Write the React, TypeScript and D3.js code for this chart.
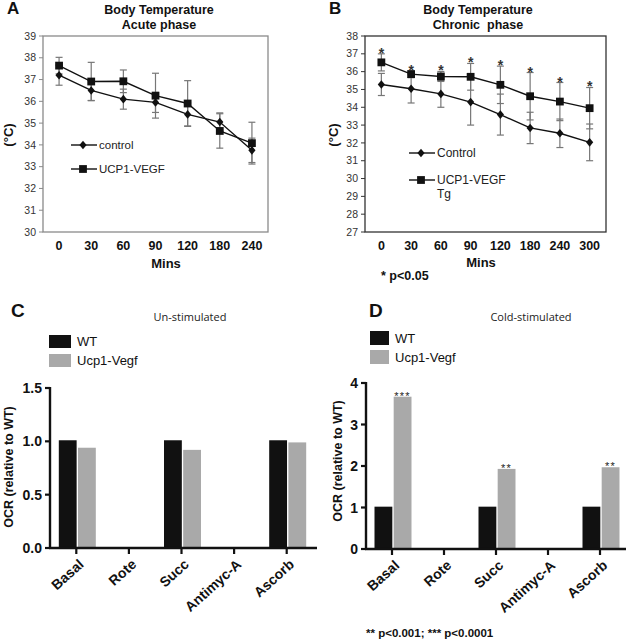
import React from "react";
import * as d3 from "d3";

// ---------- Data ----------
const aCats = ["0", "30", "60", "90", "120", "180", "240"];
const aControl = [37.2, 36.5, 36.1, 35.95, 35.4, 35.05, 33.75];
const aControlErr = [0.46, 0.46, 0.46, 0.46, 0.53, 0.42, 0.56];
const aUcp = [37.64, 36.91, 36.92, 36.26, 35.9, 34.64, 34.08];
const aUcpErr = [0.38, 0.88, 0.52, 1.03, 1.05, 0.79, 0.96];
const aTicks = [30, 31, 32, 33, 34, 35, 36, 37, 38, 39];

const bCats = ["0", "30", "60", "90", "120", "180", "240", "300"];
const bControl = [35.28, 35.04, 34.75, 34.29, 33.59, 32.84, 32.54, 32.03];
const bControlErr = [0.62, 0.8, 0.75, 1.29, 1.15, 0.88, 0.8, 1.03];
const bUcp = [36.52, 35.86, 35.73, 35.71, 35.26, 34.62, 34.32, 33.95];
const bUcpErr = [0.48, 0.2, 0.28, 0.75, 1.05, 1.33, 1.07, 1.16];
const bTicks = [27, 28, 29, 30, 31, 32, 33, 34, 35, 36, 37, 38];

const barCats = ["Basal", "Rote", "Succ", "Antimyc-A", "Ascorb"];
const barSeries = ["WT", "Ucp1-Vegf"];
const cWT = [1.01, 0, 1.01, 0, 1.01];
const cUcp = [0.94, 0, 0.92, 0, 0.99];
const cTicks = [0, 0.5, 1.0, 1.5];
const dWT = [1.02, 0, 1.02, 0, 1.02];
const dUcp = [3.67, 0, 1.93, 0, 1.97];
const dSig = ["***", "", "**", "", "**"];
const dTicks = [0, 1, 2, 3, 4];

const ARIAL = "'Liberation Sans', Arial, sans-serif";
const OPEN = "'Open Sans', 'Liberation Sans', sans-serif";
const BAR_COLORS = ["#111111", "#a9a9a9"];

const diamondPath = "M0,-4.3L3.6,0L0,4.3L-3.6,0Z";
const squarePath = "M-3.9,-3.9H3.9V3.9H-3.9Z";

type LineProps = {
  cats: string[];
  control: number[];
  controlErr: number[];
  ucp: number[];
  ucpErr: number[];
  ticks: number[];
  x0: number;
  x1: number;
  padding: number;
  boxColor: string;
  stars: boolean;
};

function LinePanel(p: LineProps) {
  const x = d3.scalePoint<string>().domain(p.cats).range([p.x0, p.x1]).padding(p.padding);
  const y = d3
    .scaleLinear()
    .domain([p.ticks[0], p.ticks[p.ticks.length - 1]])
    .range([232, 36]);
  const line = d3
    .line<number>()
    .x((_, i) => x(p.cats[i]) as number)
    .y((v) => y(v));
  const err = (vals: number[], errs: number[], key: string) =>
    vals.map((v, i) => {
      const cx = x(p.cats[i]) as number;
      const lo = y(v - errs[i]);
      const hi = y(v + errs[i]);
      return (
        <g key={key + i} stroke="#777" strokeWidth={1.2}>
          <line x1={cx} x2={cx} y1={lo} y2={hi} />
          <line x1={cx - 3.5} x2={cx + 3.5} y1={lo} y2={lo} />
          <line x1={cx - 3.5} x2={cx + 3.5} y1={hi} y2={hi} />
        </g>
      );
    });
  return (
    <g>
      <rect x={p.x0} y={36} width={p.x1 - p.x0} height={196} fill="none" stroke={p.boxColor} strokeWidth={1.3} />
      {p.ticks.map((t) => (
        <g key={t}>
          <line x1={p.x0 - 4} x2={p.x0} y1={y(t)} y2={y(t)} stroke={p.boxColor} strokeWidth={1} />
          <text x={p.x0 - 7} y={y(t)} dy="0.35em" textAnchor="end" fontSize={10.5} fill="#333" fontFamily={ARIAL}>
            {t}
          </text>
        </g>
      ))}
      {p.cats.map((c) => (
        <text key={c} x={x(c) as number} y={250} textAnchor="middle" fontSize={12.5} fontWeight="bold" fontFamily={ARIAL} fill="#111">
          {c}
        </text>
      ))}
      {err(p.control, p.controlErr, "ce")}
      {err(p.ucp, p.ucpErr, "ue")}
      <path d={line(p.control) || ""} fill="none" stroke="#111" strokeWidth={1.4} />
      <path d={line(p.ucp) || ""} fill="none" stroke="#111" strokeWidth={1.4} />
      {p.control.map((v, i) => (
        <path key={"cd" + i} d={diamondPath} transform={`translate(${x(p.cats[i])},${y(v)})`} fill="#111" />
      ))}
      {p.ucp.map((v, i) => (
        <path key={"us" + i} d={squarePath} transform={`translate(${x(p.cats[i])},${y(v)})`} fill="#111" />
      ))}
      {p.stars &&
        p.ucp.map((v, i) => (
          <text key={"st" + i} x={x(p.cats[i]) as number} y={y(v + p.ucpErr[i]) + 4} textAnchor="middle" fontSize={14} fontWeight="bold" fontFamily={ARIAL} fill="#333">
            *
          </text>
        ))}
    </g>
  );
}

type BarProps = {
  wt: number[];
  ucp: number[];
  ticks: number[];
  x0: number;
  x1: number;
  yTop: number;
  yBottom: number;
  fmt: (v: number) => string;
  sig?: string[];
};

function BarPanel(p: BarProps) {
  const x = d3.scaleBand<string>().domain(barCats).range([p.x0, p.x1]);
  const sub = d3.scaleBand<string>().domain(barSeries).range([0, 37]).paddingInner(0.07);
  const y = d3
    .scaleLinear()
    .domain([p.ticks[0], p.ticks[p.ticks.length - 1]])
    .range([p.yBottom, p.yTop]);
  const series = [p.wt, p.ucp];
  return (
    <g>
      {series.map((vals, s) =>
        vals.map((v, i) => {
          const cx = (x(barCats[i]) as number) + x.bandwidth() / 2;
          const bx = cx - 17.5 + (sub(barSeries[s]) as number);
          return v > 0 ? (
            <rect key={s + "-" + i} x={bx} y={y(v)} width={sub.bandwidth()} height={y(0) - y(v)} fill={BAR_COLORS[s]} />
          ) : null;
        })
      )}
      {p.sig &&
        p.sig.map((sg, i) => {
          const cx = (x(barCats[i]) as number) + x.bandwidth() / 2;
          const bx = cx - 17.5 + (sub(barSeries[1]) as number) + sub.bandwidth() / 2;
          return sg ? (
            <text key={"sg" + i} x={bx} y={y(p.ucp[i]) + 3} textAnchor="middle" fontSize={11} letterSpacing={1.2} fontFamily={ARIAL} fill="#222">
              {sg}
            </text>
          ) : null;
        })}
      <line x1={p.x0} x2={p.x0} y1={p.yTop - 1} y2={p.yBottom + 1} stroke="#111" strokeWidth={2.4} />
      <line x1={p.x0 - 1} x2={p.x1 + 4} y1={p.yBottom} y2={p.yBottom} stroke="#111" strokeWidth={2.4} />
      {p.ticks.map((t) => (
        <g key={t}>
          <line x1={p.x0 - 5} x2={p.x0} y1={y(t)} y2={y(t)} stroke="#111" strokeWidth={2.2} />
          <text x={p.x0 - 8} y={y(t)} dy="0.36em" textAnchor="end" fontSize={14} fontWeight="bold" fontFamily={ARIAL} fill="#111">
            {p.fmt(t)}
          </text>
        </g>
      ))}
      {barCats.map((c) => {
        const cx = (x(c) as number) + x.bandwidth() / 2;
        return (
          <g key={c}>
            <line x1={cx} x2={cx} y1={p.yBottom} y2={p.yBottom + 6} stroke="#111" strokeWidth={2.2} />
            <text transform={`translate(${cx + 5},${p.yBottom + 14}) rotate(-42)`} textAnchor="end" dy="0.35em" fontSize={14} fontWeight="bold" fontFamily={ARIAL} fill="#111">
              {c}
            </text>
          </g>
        );
      })}
    </g>
  );
}

function Legend({ x, y1, y2, labels, fs, tg }: { x: number; y1: number; y2: number; labels: string[]; fs: number; tg?: boolean }) {
  return (
    <g>
      <line x1={x} x2={x + 26} y1={y1} y2={y1} stroke="#111" strokeWidth={1.4} />
      <path d={diamondPath} transform={`translate(${x + 12},${y1})`} fill="#111" />
      <text x={x + 28} y={y1} dy="0.35em" fontSize={fs} fontFamily={ARIAL} fill="#222">
        {labels[0]}
      </text>
      <line x1={x} x2={x + 26} y1={y2} y2={y2} stroke="#111" strokeWidth={1.4} />
      <path d={squarePath} transform={`translate(${x + 12},${y2})`} fill="#111" />
      <text x={x + 28} y={y2} dy="0.35em" fontSize={fs} fontFamily={ARIAL} fill="#222">
        {labels[1]}
      </text>
      {tg && (
        <text x={x + 28} y={y2 + 14} dy="0.35em" fontSize={fs} fontFamily={ARIAL} fill="#222">
          Tg
        </text>
      )}
    </g>
  );
}

function BarLegend({ x, y1, y2, w, h }: { x: number; y1: number; y2: number; w: number; h: number }) {
  return (
    <g>
      {barSeries.map((s, i) => (
        <g key={s}>
          <rect x={x} y={i === 0 ? y1 : y2} width={w} height={h} fill={BAR_COLORS[i]} />
          <text x={x + w + 6} y={(i === 0 ? y1 : y2) + h / 2} dy="0.36em" fontSize={13} fontFamily={ARIAL} fill="#111">
            {s}
          </text>
        </g>
      ))}
    </g>
  );
}

export default function App() {
  const bold = { fontWeight: "bold" as const, fontFamily: ARIAL, fill: "#111" };
  return (
    <svg width={626} height={641} style={{ position: "absolute", left: 0, top: 0, background: "#fff" }}>
      <rect width={626} height={641} fill="#fff" />
      {/* Panel A */}
      <text x={7} y={14} fontSize={17} {...bold}>A</text>
      <text x={159} y={14} textAnchor="middle" fontSize={12.5} {...bold}>Body Temperature</text>
      <text x={159} y={29} textAnchor="middle" fontSize={12.5} {...bold}>Acute phase</text>
      <text transform="translate(8,135) rotate(-90)" textAnchor="middle" dy="0.35em" fontSize={13} {...bold}>(°C)</text>
      <LinePanel cats={aCats} control={aControl} controlErr={aControlErr} ucp={aUcp} ucpErr={aUcpErr} ticks={aTicks} x0={43} x1={268} padding={0.5} boxColor="#8a8a8a" stars={false} />
      <Legend x={71} y1={145} y2={169} labels={["control", "UCP1-VEGF"]} fs={11.5} />
      <text x={166} y={268} textAnchor="middle" fontSize={13} {...bold}>Mins</text>

      {/* Panel B */}
      <text x={329} y={14} fontSize={17} {...bold}>B</text>
      <text x={478} y={14} textAnchor="middle" fontSize={12.5} {...bold}>Body Temperature</text>
      <text x={478} y={29} textAnchor="middle" fontSize={12.5} {...bold} style={{ whiteSpace: "pre" }}>Chronic  phase</text>
      <text transform="translate(333,135) rotate(-90)" textAnchor="middle" dy="0.35em" fontSize={13} {...bold}>(°C)</text>
      <LinePanel cats={bCats} control={bControl} controlErr={bControlErr} ucp={bUcp} ucpErr={bUcpErr} ticks={bTicks} x0={365} x1={606} padding={0.55} boxColor="#333" stars={true} />
      <Legend x={409} y1={153} y2={180} labels={["Control", "UCP1-VEGF"]} fs={12} tg={true} />
      <text x={481} y={267} textAnchor="middle" fontSize={13} {...bold}>Mins</text>
      <text x={381} y={280} fontSize={12.5} {...bold}>* p&lt;0.05</text>

      {/* Panel C */}
      <text x={11} y={317} fontSize={19} {...bold}>C</text>
      <text x={190} y={321} textAnchor="middle" fontSize={11} fontFamily={OPEN} fill="#222">Un-stimulated</text>
      <BarLegend x={49} y1={335} y2={354} w={22} h={13} />
      <text transform="translate(9,467) rotate(-90)" textAnchor="middle" dy="0.35em" fontSize={12.5} {...bold}>OCR (relative to WT)</text>
      <BarPanel wt={cWT} ucp={cUcp} ticks={cTicks} x0={50} x1={313} yTop={388} yBottom={548} fmt={(v) => v.toFixed(1)} />

      {/* Panel D */}
      <text x={369} y={317} fontSize={19} {...bold}>D</text>
      <text x={531} y={321} textAnchor="middle" fontSize={11} fontFamily={OPEN} fill="#222">Cold-stimulated</text>
      <BarLegend x={370} y1={331} y2={350} w={19} h={14} />
      <text transform="translate(338,461) rotate(-90)" textAnchor="middle" dy="0.35em" fontSize={12.5} {...bold}>OCR (relative to WT)</text>
      <BarPanel wt={dWT} ucp={dUcp} ticks={dTicks} x0={366} x1={626} yTop={383} yBottom={549} fmt={(v) => String(v)} sig={dSig} />
      <text x={366} y={637} fontSize={11.5} {...bold}>** p&lt;0.001; *** p&lt;0.0001</text>
    </svg>
  );
}
